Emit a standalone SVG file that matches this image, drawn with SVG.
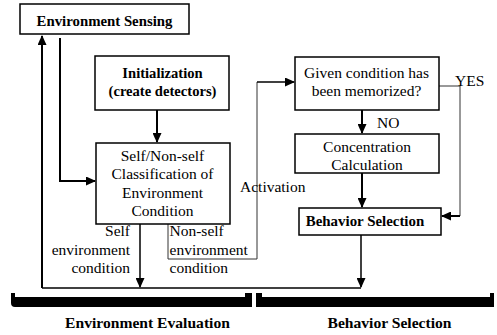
<svg xmlns="http://www.w3.org/2000/svg" width="497" height="335" viewBox="0 0 497 335">
<defs>
<style>
.box{fill:#fff;stroke:#000;stroke-width:1.5}
.ln{fill:none;stroke:#000;stroke-width:1.5}
.th{fill:none;stroke:#000;stroke-width:2}
.thin{fill:none;stroke:#333;stroke-width:1}
</style>
<marker id="ah" markerWidth="10" markerHeight="9" refX="9" refY="4.5" orient="auto" markerUnits="userSpaceOnUse">
<path d="M0,0 L10,4.5 L0,9 Z" fill="#000"/>
</marker>
</defs>
<g id="connectors">
<path class="th" d="M42,288 L42,36" marker-end="url(#ah)"/>
<path class="th" d="M60,38 L60,181 L95,181" marker-end="url(#ah)"/>
<path class="th" d="M157,110 L157,142" marker-end="url(#ah)"/>
<path class="ln" d="M140,224 L140,287" marker-end="url(#ah)"/>
<path class="ln" d="M42,288 L361,288"/>
<path class="thin" d="M168,224 L168,259 L257,259 L257,82"/>
<path class="ln" d="M257,82 L294,82" marker-end="url(#ah)"/>
<path class="th" d="M362,110 L362,133" marker-end="url(#ah)"/>
<path class="th" d="M362,173 L362,207" marker-end="url(#ah)"/>
<path class="ln" d="M361,235 L361,287" marker-end="url(#ah)"/>
<path class="thin" d="M439,86 L460,86 L460,216"/>
<path class="th" d="M460,216 L442,216" marker-end="url(#ah)"/>
</g>
<g font-family="Liberation Serif" font-size="15.5" fill="#000">
<g id="env-sensing">
<rect class="box" x="20" y="4" width="169" height="30"/>
<text font-family="Liberation Serif" font-size="14.8" font-weight="bold" x="104.5" y="26" text-anchor="middle">Environment Sensing</text>
</g>
<g id="initialization">
<rect class="box" x="95" y="56" width="134" height="54"/>
<text font-family="Liberation Serif" font-size="14.6" font-weight="bold" x="162.5" y="78" text-anchor="middle">Initialization</text>
<text font-family="Liberation Serif" font-size="14.6" font-weight="bold" x="162.5" y="96" text-anchor="middle">(create detectors)</text>
</g>
<g id="classification">
<rect class="box" x="96" y="143" width="134" height="81"/>
<text font-family="Liberation Serif" font-size="15.5" x="162.5" y="160.5" text-anchor="middle">Self/Non-self</text>
<text font-family="Liberation Serif" font-size="15.5" x="162.5" y="179" text-anchor="middle">Classification of</text>
<text font-family="Liberation Serif" font-size="15.5" x="162.5" y="197.5" text-anchor="middle">Environment</text>
<text font-family="Liberation Serif" font-size="15.5" x="162.5" y="216" text-anchor="middle">Condition</text>
</g>
<g id="given-condition">
<rect class="box" x="295" y="57" width="144" height="53"/>
<text font-family="Liberation Serif" font-size="15.5" x="366.5" y="78" text-anchor="middle">Given condition has</text>
<text font-family="Liberation Serif" font-size="15.5" x="366.5" y="96" text-anchor="middle">been memorized?</text>
</g>
<g id="concentration">
<rect class="box" x="295" y="134" width="144" height="39"/>
<text font-family="Liberation Serif" font-size="15.5" x="367" y="152" text-anchor="middle">Concentration</text>
<text font-family="Liberation Serif" font-size="15.5" x="367" y="170" text-anchor="middle">Calculation</text>
</g>
<g id="behavior-selection">
<rect class="box" x="299" y="208" width="142" height="27"/>
<text font-family="Liberation Serif" font-size="14.9" font-weight="bold" x="365" y="225.5" text-anchor="middle">Behavior Selection</text>
</g>
<g id="labels">
<text font-family="Liberation Serif" font-size="15.5" x="130" y="236" text-anchor="end">Self</text>
<text font-family="Liberation Serif" font-size="15.5" x="130" y="255" text-anchor="end">environment</text>
<text font-family="Liberation Serif" font-size="15.5" x="130" y="273" text-anchor="end">condition</text>
<text font-family="Liberation Serif" font-size="15.5" x="169.5" y="236">Non-self</text>
<text font-family="Liberation Serif" font-size="15.5" x="169.5" y="255">environment</text>
<text font-family="Liberation Serif" font-size="15.5" x="169.5" y="273">condition</text>
<text font-family="Liberation Serif" font-size="15.5" x="240" y="192">Activation</text>
<text font-family="Liberation Serif" font-size="15.5" x="377" y="128">NO</text>
<text font-family="Liberation Serif" font-size="15.5" x="455" y="86">YES</text>
</g>
<g id="brackets">
<path d="M11,293 L15,293 L15,297 L245,297 L245,293 L252,293 L252,307 L15,307 Q11,307 11,303 Z" fill="#000"/>
<path d="M256,293 L262,293 L262,297 L490,297 L490,293 L494,293 L494,307 L256,307 Z" fill="#000"/>
<text font-family="Liberation Serif" font-size="15.6" font-weight="bold" x="147.5" y="328" text-anchor="middle">Environment Evaluation</text>
<text font-family="Liberation Serif" font-size="15.6" font-weight="bold" x="389.5" y="328" text-anchor="middle">Behavior Selection</text>
</g>
</g>
</svg>
